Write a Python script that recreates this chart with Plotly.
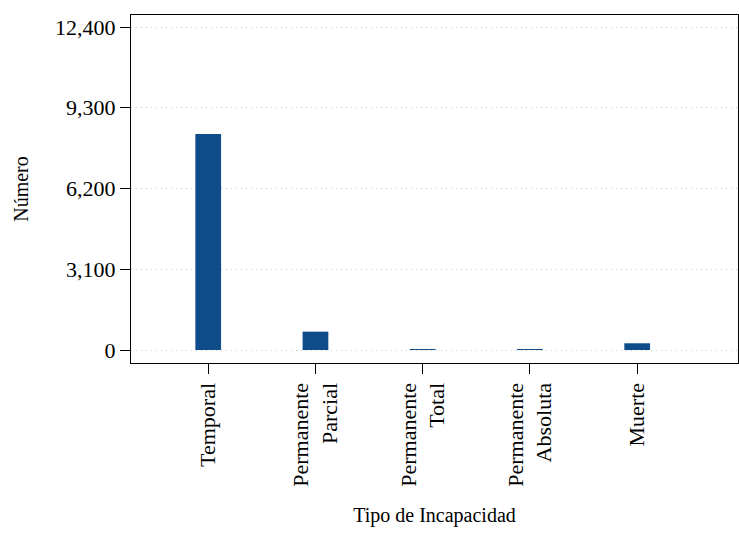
import plotly.graph_objects as go

# datos
tipos = ["Temporal", "Permanente<br>Parcial", "Permanente<br>Total",
         "Permanente<br>Absoluta", "Muerte"]
numero = [8290, 705, 28, 12, 258]
ticks_y = [0, 3100, 6200, 9300, 12400]
ticks_y_txt = ["0", "3,100", "6,200", "9,300", "12,400"]

fuente = "Liberation Serif"

fig = go.Figure()
fig.add_trace(go.Bar(x=list(range(len(tipos))), y=numero, width=0.24,
                     marker_color="#0F4C8A", marker_line_width=0))

fig.update_layout(
    width=739, height=555,
    margin=dict(l=131, r=1, t=15, b=192),
    plot_bgcolor="white", paper_bgcolor="white",
    font=dict(family=fuente, size=22, color="black"),
    showlegend=False,
    xaxis=dict(
        title=dict(text="Tipo de Incapacidad", standoff=22, font=dict(size=20)),
        tickmode="array", tickvals=list(range(len(tipos))), ticktext=tipos,
        tickangle=-90, range=[-0.72, 4.94], automargin=False,
        showline=True, linecolor="black", linewidth=1.3, mirror=True,
        ticks="outside", ticklen=10, tickwidth=1.3, tickcolor="black",
        showgrid=False, zeroline=False,
    ),
    yaxis=dict(
        title=dict(text="Número", standoff=20, font=dict(size=20)),
        tickmode="array", tickvals=ticks_y, ticktext=ticks_y_txt,
        range=[-499, 12861], automargin=False,
        showline=True, linecolor="black", linewidth=1.3, mirror=True,
        ticks="outside", ticklen=10, tickwidth=1.3, tickcolor="black",
        showgrid=True, gridcolor="#c8c8c8", griddash="1px,4px", gridwidth=1,
        zeroline=False,
    ),
)

# quitar el margen del body para que la figura quede en (0,0)
js = ("document.body.style.margin='0';"
      "document.body.style.overflow='hidden';")
fig.write_html("out.html", post_script=js, config={"displayModeBar": False})
